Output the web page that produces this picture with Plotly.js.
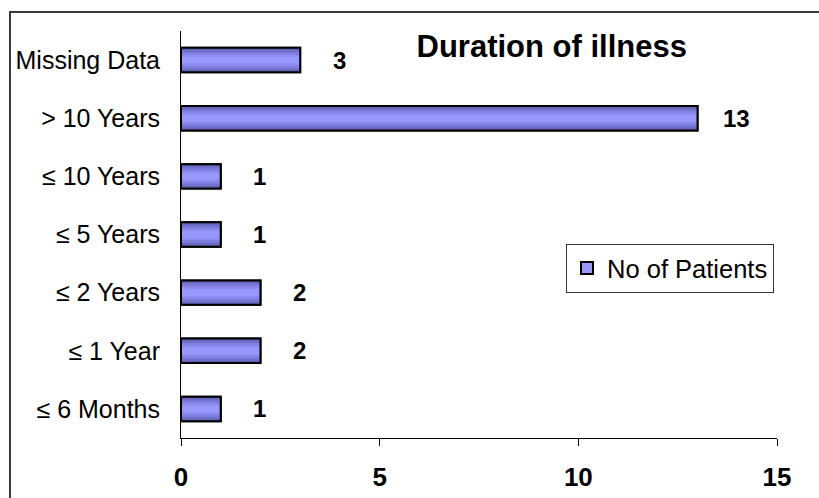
<!DOCTYPE html>
<html>
<head>
<meta charset="utf-8">
<script src="https://cdn.plot.ly/plotly-3.0.1.min.js"></script>
<style>
  html, body { margin: 0; padding: 0; background: #fff; }
  #wrap { position: relative; width: 819px; height: 498px; overflow: hidden; }
  #chart { position: absolute; left: 0; top: 0; width: 819px; height: 498px; }
  #frame { position: absolute; left: 9px; top: 11px; width: 840px; height: 520px;
           border: 2px solid #3a3a3a; box-sizing: border-box; pointer-events: none; }
</style>
</head>
<body>
<div id="wrap">
  <div id="chart"></div>
  <div id="frame"></div>
</div>
<script>
const categories = ["≤ 6 Months", "≤ 1 Year", "≤ 2 Years", "≤ 5 Years", "≤ 10 Years", "> 10 Years", "Missing Data"];
const patients = [1, 2, 2, 1, 1, 13, 3];
const xTicks = [0, 5, 10, 15];
const seriesName = "No of Patients";
const chartTitle = "Duration of illness";

const FONT = "'Liberation Sans', Arial, sans-serif";
const BAR_W = 0.42;
// shading bands (outer -> inner) to imitate the spreadsheet gradient fill
const shadeFrac = [1.0, 0.82, 0.64, 0.46, 0.28];
const shadeCol = ["#6161b6", "#7070cc", "#7f7fe0", "#8c8cf0", "#9797fc"];

const traces = [];
// legend entry (fully covered by the shaded bars drawn on top)
traces.push({
  type: "bar", orientation: "h", x: patients, y: categories, name: seriesName,
  width: BAR_W, marker: { color: "#9999ff", line: { color: "#000", width: 2 } },
  showlegend: true, hoverinfo: "none"
});
shadeFrac.forEach((f, k) => traces.push({
  type: "bar", orientation: "h", x: patients, y: categories, name: seriesName,
  width: BAR_W * f, marker: { color: shadeCol[k], line: { width: 0 } },
  showlegend: false, hoverinfo: "none"
}));
// outline on top
traces.push({
  type: "bar", orientation: "h", x: patients, y: categories, name: seriesName,
  width: BAR_W, marker: { color: "rgba(0,0,0,0)", line: { color: "#000", width: 2 } },
  showlegend: false, hoverinfo: "none"
});

const annotations = patients.map((v, i) => ({
  x: v, y: categories[i], xref: "x", yref: "y",
  text: String(v), showarrow: false,
  xanchor: "center", yanchor: "middle", xshift: 39,
  font: { family: FONT, size: 24, color: "#000", weight: "bold" }
}));

const layout = {
  width: 819, height: 498,
  paper_bgcolor: "rgba(0,0,0,0)", plot_bgcolor: "rgba(0,0,0,0)",
  margin: { l: 181, r: 42, t: 31, b: 60 },
  font: { family: FONT, color: "#000" },
  barmode: "overlay",
  title: {
    text: "<b>" + chartTitle + "</b>",
    font: { family: FONT, size: 31, color: "#000" },
    xref: "paper", yref: "paper", x: 0.622, y: 0.962,
    xanchor: "center", yanchor: "middle"
  },
  xaxis: {
    range: [0, 15], tickvals: xTicks, ticktext: xTicks.map(String),
    showgrid: false, zeroline: false, showline: true, linecolor: "#000", linewidth: 1,
    ticks: "outside", ticklen: 7, tickcolor: "#000", tickwidth: 1,
    tickfont: { family: FONT, size: 26, color: "#000", weight: "bold" },
    ticklabelstandoff: 9
  },
  yaxis: {
    type: "category", categoryorder: "array", categoryarray: categories,
    range: [-0.5, categories.length - 0.5],
    showgrid: false, zeroline: false, showline: true, linecolor: "#000", linewidth: 1,
    ticks: "", tickfont: { family: FONT, size: 25, color: "#000" },
    ticklabelstandoff: 15
  },
  legend: {
    x: 0.646, y: 0.477, xref: "paper", yref: "paper", xanchor: "left", yanchor: "top",
    bgcolor: "#fff", bordercolor: "#333", borderwidth: 1,
    font: { family: FONT, size: 25.5, color: "#000" }
  },
  annotations: annotations
};

Plotly.newPlot("chart", traces, layout, { staticPlot: true, displayModeBar: false });
</script>
</body>
</html>
